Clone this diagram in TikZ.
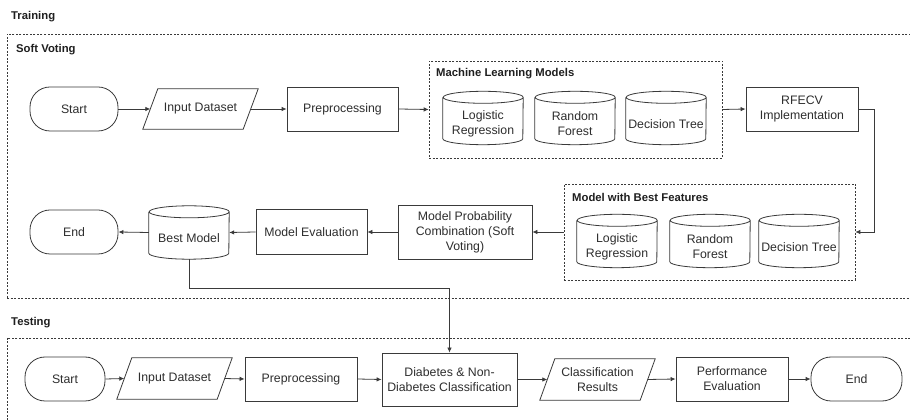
\documentclass[tikz,border=0pt]{standalone}
\usepackage{fontspec}
\setmainfont{Liberation Sans}
\usetikzlibrary{arrows.meta,calc}
\definecolor{ln}{HTML}{3A3A3A}
\definecolor{txt}{HTML}{2E2E2E}
\begin{document}
\begin{tikzpicture}[x=1pt,y=1pt,
  every node/.style={font=\fontsize{12.3}{15}\selectfont, text=txt, align=center},
  proc/.style={draw=ln, line width=.8pt, inner sep=0pt},
  term/.style={draw=ln, line width=.8pt, rounded corners=20pt, inner sep=0pt},
  iobox/.style={inner sep=0pt},
  cyl/.style={inner sep=0pt, minimum width=80pt, minimum height=53pt},
  grp/.style={draw=ln, dash pattern=on 2pt off 1.5pt, line width=.6pt, inner sep=0pt},
  ttl/.style={font=\bfseries\fontsize{11.3}{13}\selectfont, anchor=west, inner sep=0pt, text=black!88},
  arr/.style={-{Latex[length=5pt,width=4.5pt]}, draw=ln, line width=.8pt},
  outl/.style={draw=ln, line width=.8pt}
]
\fill[white] (0,0) rectangle (910,420);
\useasboundingbox (0,0) rectangle (910,420);
\clip (0,0) rectangle (910,420);

% group boxes
\node[grp, minimum width=913pt, minimum height=264pt] (train) at (463.5,254) {};
\node[grp, minimum width=913pt, minimum height=92pt] (test) at (463.5,36) {};
\node[grp, minimum width=293pt, minimum height=97pt] (mlbox) at (575.5,310.5) {};
\node[grp, minimum width=291pt, minimum height=96pt] (mbf) at (709.5,188) {};

% titles
\node[ttl] (tTrain) at (11,403) {Training};
\node[ttl] (tSoft) at (16,370) {Soft Voting};
\node[ttl] (tML) at (436,346) {Machine Learning Models};
\node[ttl] (tMBF) at (572,223) {Model with Best Features};
\node[ttl] (tTest) at (11,97) {Testing};

% training row 1
\node[term, minimum width=88pt, minimum height=44pt] (start1) at (74,311) {Start};
\node[iobox, minimum width=115pt, minimum height=40pt] (in1) at (200.5,311) {Input Dataset};
\node[proc, minimum width=111pt, minimum height=44pt] (pre1) at (342.5,311) {Preprocessing};
\node[cyl] (lr1) at (483,296) {Logistic\\Regression};
\node[cyl] (rf1) at (575,296) {Random\\Forest};
\node[cyl] (dt1) at (666,296) {Decision Tree};
\node[proc, minimum width=112pt, minimum height=44pt] (rfecv) at (802,311) {RFECV\\Implementation};

% training row 2
\node[cyl] (lr2) at (617,173) {Logistic\\Regression};
\node[cyl] (rf2) at (710,173) {Random\\Forest};
\node[cyl] (dt2) at (799,173) {Decision Tree};
\node[proc, minimum width=134pt, minimum height=54pt] (mpc) at (465,188) {Model Probability\\Combination (Soft\\Voting)};
\node[proc, minimum width=111pt, minimum height=45pt] (me) at (311.5,188) {Model Evaluation};
\node[cyl] (bm) at (189,181.5) {Best Model};
\node[term, minimum width=88pt, minimum height=44pt] (end1) at (74,188) {End};

% testing row
\node[term, minimum width=80pt, minimum height=44pt] (start2) at (65,41) {Start};
\node[iobox, minimum width=115pt, minimum height=41pt] (in2) at (174.5,41.5) {Input Dataset};
\node[proc, minimum width=112pt, minimum height=44pt] (pre2) at (301,41) {Preprocessing};
\node[proc, minimum width=135pt, minimum height=53pt] (dia) at (449.5,40.5) {Diabetes \& Non-\\Diabetes Classification};
\node[iobox, minimum width=115pt, minimum height=41pt] (cr) at (597.5,40.5) {Classification\\Results};
\node[proc, minimum width=112pt, minimum height=44pt] (pe) at (732,41) {Performance\\Evaluation};
\node[term, minimum width=91pt, minimum height=44pt] (end2) at (856.5,41) {End};

% outlines: parallelograms
\foreach \n in {in1,in2,cr}
  \draw[outl] (\n.south west) -- ([xshift=15pt]\n.north west) -- (\n.north east) -- ([xshift=-15pt]\n.south east) -- cycle;
% outlines: cylinders
\foreach \n in {lr1,rf1,dt1,lr2,rf2,dt2,bm}
  \draw[outl] (\n.north west) -- ([yshift=12pt]\n.south west)
    arc[start angle=180, end angle=360, x radius=40pt, y radius=6pt]
    -- (\n.north east)
    arc[start angle=0, end angle=360, x radius=40pt, y radius=6pt];

% connectors training
\coordinate (c1) at (874,311);
\coordinate (c2) at (189,132);
\draw[arr] (start1.east) -- ([xshift=7.5pt]in1.west);
\draw[arr] ([xshift=-7.5pt]in1.east) -- (pre1.west);
\draw[arr] (pre1.east) -- (mlbox.west);
\draw[arr] (mlbox.east) -- (rfecv.west);
\draw[arr] (rfecv.east) -- (c1) |- (mbf.east);
\draw[arr] (mbf.west) -- (mpc.east);
\draw[arr] (mpc.west) -- (me.east);
\draw[arr] (me.west) -- ([yshift=6pt]bm.east);
\draw[arr] ([yshift=6pt]bm.west) -- (end1.east);
\draw[arr] ([yshift=6pt]bm.south) -- (c2) -| (dia.north);

% connectors testing
\draw[arr] (start2.east) -- ([xshift=7.5pt]in2.west);
\draw[arr] ([xshift=-7.5pt]in2.east) -- (pre2.west);
\draw[arr] (pre2.east) -- (dia.west);
\draw[arr] (dia.east) -- ([xshift=7.5pt]cr.west);
\draw[arr] ([xshift=-7.5pt]cr.east) -- (pe.west);
\draw[arr] (pe.east) -- (end2.west);
\end{tikzpicture}
\end{document}
